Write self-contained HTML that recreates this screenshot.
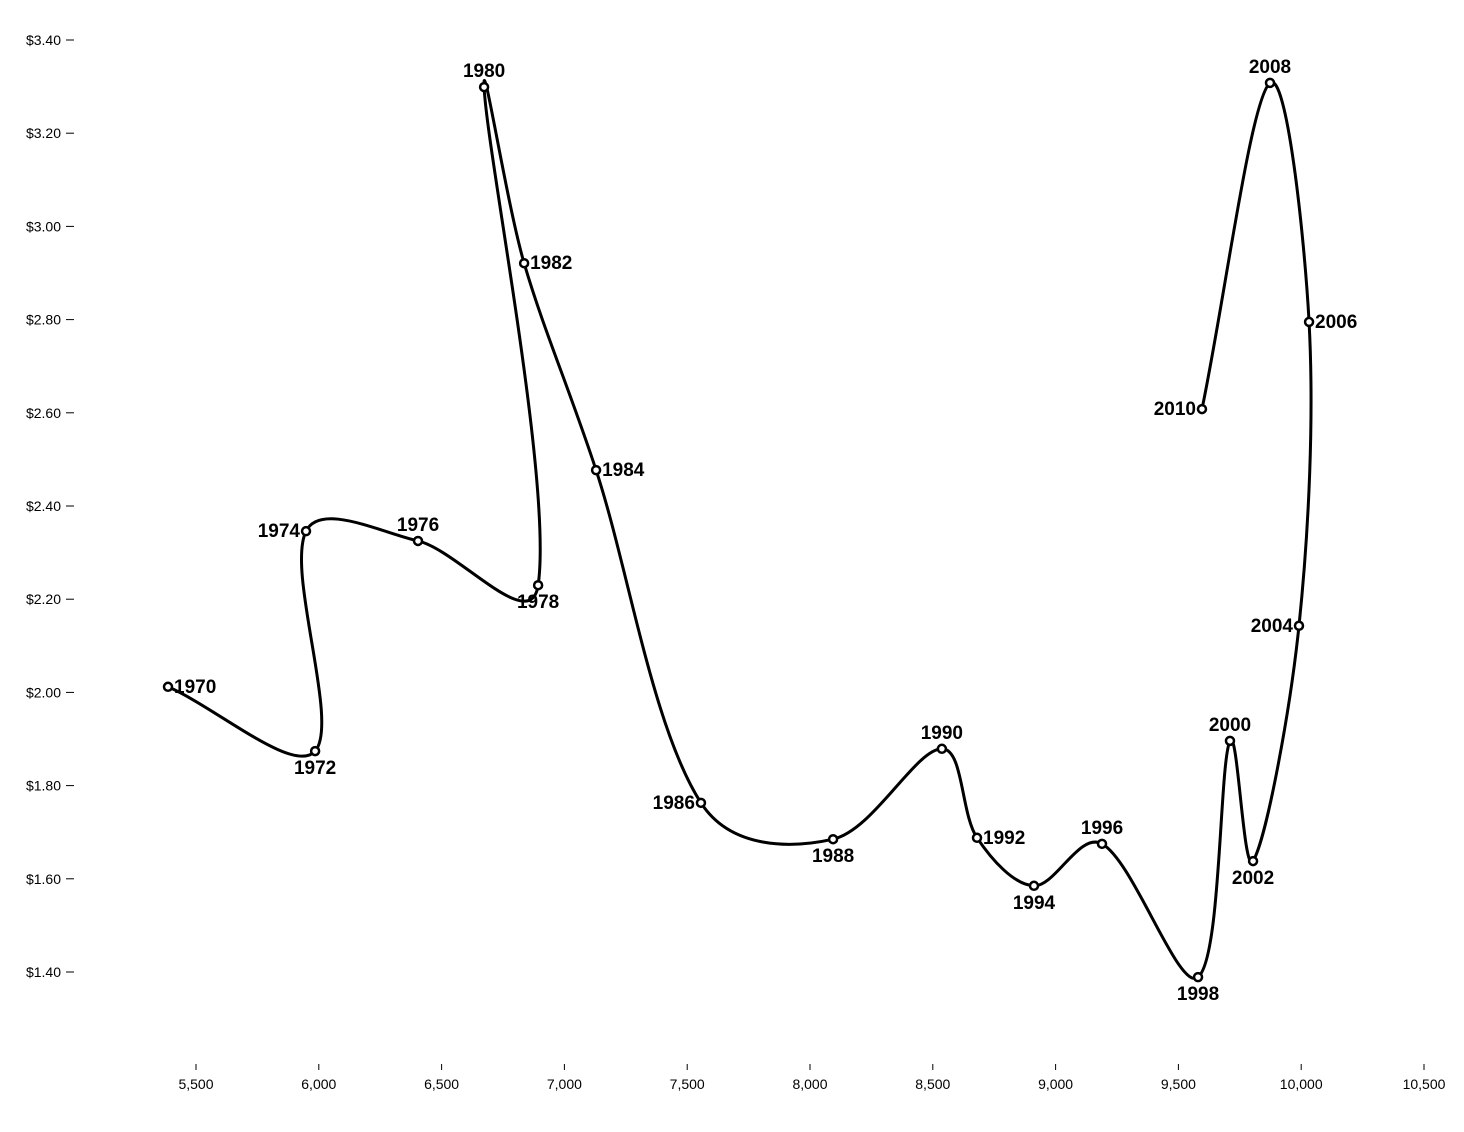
<!DOCTYPE html>
<html><head><meta charset="utf-8">
<style>
html,body{margin:0;padding:0;background:#fff;}
svg{display:block;font-family:"Liberation Sans",sans-serif;}
.tick text{font-size:14px;fill:#000;}
.lbl{font-size:19px;font-weight:bold;fill:#000;}
</style></head>
<body>
<svg id="chart" width="1464" height="1132"></svg>
<script>
const years=[1970,1972,1974,1976,1978,1980,1982,1984,1986,1988,1990,1992,1994,1996,1998,2000,2002,2004,2006,2008,2010];
const miles=[5386,5985,5948,6404,6893,6673,6836,7129,7556,8094,8537,8680,8912,9189,9580,9710,9804,9991,10032,9873,9596];
const gas=[2.012,1.874,2.346,2.325,2.230,3.299,2.921,2.477,1.763,1.685,1.879,1.688,1.585,1.675,1.389,1.896,1.638,2.143,2.795,3.308,2.608];
const orient=["right","bottom","left","top","bottom","top","right","right","left","bottom","top","right","bottom","top","bottom","top","bottom","left","right","top","left"];
const xTicks=[5500,6000,6500,7000,7500,8000,8500,9000,9500,10000,10500];
const yTicks=[1.4,1.6,1.8,2.0,2.2,2.4,2.6,2.8,3.0,3.2,3.4];

const NS="http://www.w3.org/2000/svg";
const svg=document.getElementById('chart');
const x=m=>196+(m-5500)*(1228/5000);
const y=v=>40+(3.4-v)*466;
function el(t,a,p){const e=document.createElementNS(NS,t);for(const k in a)e.setAttribute(k,a[k]);(p||svg).appendChild(e);return e;}

const xa=el('g',{});


xTicks.forEach(t=>{
  const g=el('g',{class:'tick'},xa);
  
  
  el('line',{x1:x(t),x2:x(t),y1:1064,y2:1070,stroke:'#000'},g);
  const tx=el('text',{x:x(t),y:1089,'text-anchor':'middle'},g);
  tx.textContent=t.toLocaleString('en-US');
});
const ya=el('g',{});


yTicks.forEach(t=>{
  const g=el('g',{class:'tick'},ya);
  
  
  el('line',{x1:66,x2:74,y1:y(t),y2:y(t),stroke:'#000'},g);
  const tx=el('text',{x:61,y:y(t)+5,'text-anchor':'end'},g);
  tx.textContent='$'+t.toFixed(2);
});

const P=years.map((_,i)=>[x(miles[i]),y(gas[i])]);
function dist(a,b){return Math.hypot(a[0]-b[0],a[1]-b[1]);}
let d='M'+P[0][0]+','+P[0][1];
for(let i=0;i<P.length-1;i++){
  const p0=P[i-1]||P[i],p1=P[i],p2=P[i+1],p3=P[i+2]||P[i+1];
  const a=0.5;
  let d1=Math.pow(dist(p0,p1),a)||1e-6,d2=Math.pow(dist(p1,p2),a)||1e-6,d3=Math.pow(dist(p2,p3),a)||1e-6;
  if(i===0)d1=d2; if(i===P.length-2)d3=d2;
  const c1=[0,1].map(k=>p1[k]+(p2[k]-p0[k])/(d1+d2)*d2/3*((i===0)?0:1)+((i===0)?(p2[k]-p1[k])/3:0));
  const c2=[0,1].map(k=>p2[k]-(p3[k]-p1[k])/(d2+d3)*d2/3*((i===P.length-2)?0:1)-((i===P.length-2)?(p2[k]-p1[k])/3:0));
  d+=`C${c1[0]},${c1[1]} ${c2[0]},${c2[1]} ${p2[0]},${p2[1]}`;
}
const line=el('path',{d:d,fill:'none',stroke:'#000','stroke-width':3,'stroke-linejoin':'round','stroke-linecap':'round'});



years.forEach((yr,i)=>{
  const cx=x(miles[i]),cy=y(gas[i]);
  const c=el('circle',{cx:cx,cy:cy,r:4,fill:'#fff',stroke:'#000','stroke-width':2.5});
  
  
  let tx=cx,ty=cy,an='middle';
  const o=orient[i];
  if(o==='top'){ty=cy-10;}
  else if(o==='bottom'){ty=cy+23;}
  else if(o==='left'){tx=cx-6;ty=cy+6;an='end';}
  else {tx=cx+6;ty=cy+6;an='start';}
  const t=el('text',{x:tx,y:ty,'text-anchor':an,class:'lbl'});
  
  
  t.textContent=yr;
});
</script>
</body></html>
